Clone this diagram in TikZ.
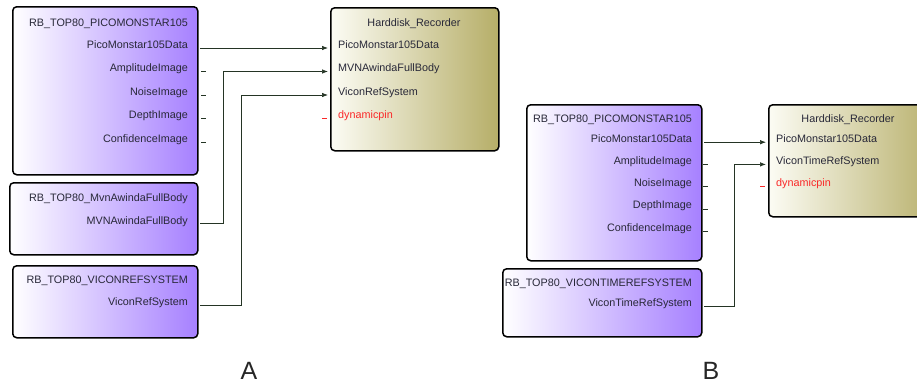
\documentclass[tikz,border=0pt]{standalone}
\usepackage{fontspec}
\setmainfont{Liberation Sans}
\usetikzlibrary{arrows.meta}

\definecolor{srcpurple}{RGB}{166,128,255}
\definecolor{recolive}{RGB}{182,174,104}
\definecolor{reccream}{RGB}{252,252,244}
\definecolor{pintext}{RGB}{40,40,56}
\definecolor{wirecol}{RGB}{36,52,36}
\definecolor{pinred}{RGB}{250,40,40}

\begin{document}
\begin{tikzpicture}[x=1pt,y=-1pt,
    block/.style={draw=black, line width=1.5pt, rounded corners=4pt, anchor=north west, inner sep=0pt},
    source/.style={block, left color=white, right color=srcpurple},
    recorder/.style={block, left color=reccream, right color=recolive},
    pin/.style={font=\fontsize{10.8}{13}\selectfont, text=pintext, inner sep=0pt},
    outpin/.style={pin, anchor=base east},
    inpin/.style={pin, anchor=base west},
    wire/.style={draw=wirecol, line width=0.7pt},
    feed/.style={wire, -{Latex[length=6pt,width=4.5pt]}},
    stub/.style={draw=wirecol, line width=0.6pt}]

    \useasboundingbox (0,0) rectangle (917,388);
    \clip (0,0) rectangle (917,388);

    % ---- A ----
    \node[source, minimum width=185pt, minimum height=168pt] (picoA) at (12,6) {};
    \node[outpin] (picoA-t) at (188,27) {RB\_TOP80\_PICOMONSTAR105};
    \foreach \n [count=\i] in {PicoMonstar105Data,AmplitudeImage,NoiseImage,DepthImage,ConfidenceImage}
        \node[outpin] (picoA-p\i) at (188,{24.5+23.5*\i}) {\n};
    \foreach \i in {2,...,5}
        \draw[stub] (201,{24.5+23.5*\i}) -- ++(5,0);

    \node[source, minimum width=188pt, minimum height=72pt] (mvnA) at (9,182) {};
    \node[outpin] (mvnA-t) at (188,201) {RB\_TOP80\_MvnAwindaFullBody};
    \node[outpin] (mvnA-p1) at (188,224) {MVNAwindaFullBody};

    \node[source, minimum width=185pt, minimum height=72pt] (viconA) at (12,265) {};
    \node[outpin] (viconA-t) at (188,283) {RB\_TOP80\_VICONREFSYSTEM};
    \node[outpin] (viconA-p1) at (188,305) {ViconRefSystem};

    \node[recorder, minimum width=168pt, minimum height=143pt] (recA) at (330,7) {};
    \node[pin, anchor=base] (recA-t) at (414,26) {Harddisk\_Recorder};
    \node[inpin] (recA-p1) at (338,48) {PicoMonstar105Data};
    \node[inpin] (recA-p2) at (338,71.5) {MVNAwindaFullBody};
    \node[inpin] (recA-p3) at (338,95) {ViconRefSystem};
    \node[inpin, text=pinred] (recA-p4) at (338,118) {dynamicpin};
    \draw[pinred, line width=0.6pt] (322,118) -- ++(5,0);

    \coordinate (picoA-o1) at (200,48);
    \coordinate (mvnA-o1) at (200,223);
    \coordinate (viconA-o1) at (200,305);
    \coordinate (recA-i1) at (328,48);
    \coordinate (recA-i2) at (328,71.5);
    \coordinate (recA-i3) at (328,95);

    \draw[feed] (picoA-o1) -- (recA-i1);
    \draw[feed] (mvnA-o1) -- ++(23,0) |- (recA-i2);
    \draw[feed] (viconA-o1) -- ++(41,0) |- (recA-i3);

    % ---- B ----
    \node[source, minimum width=175pt, minimum height=156pt] (picoB) at (526,104) {};
    \node[outpin] (picoB-t) at (692,122) {RB\_TOP80\_PICOMONSTAR105};
    \foreach \n [count=\i] in {PicoMonstar105Data,AmplitudeImage,NoiseImage,DepthImage,ConfidenceImage}
        \node[outpin] (picoB-p\i) at (692,{120+22.2*\i}) {\n};
    \foreach \i in {2,...,5}
        \draw[stub] (703,{120+22.2*\i}) -- ++(5,0);

    \node[source, minimum width=199pt, minimum height=68pt] (viconB) at (502,268) {};
    \node[outpin] (viconB-t) at (692,286) {RB\_TOP80\_VICONTIMEREFSYSTEM};
    \node[outpin] (viconB-p1) at (692,306) {ViconTimeRefSystem};

    \node[recorder, minimum width=172pt, minimum height=112pt] (recB) at (768,104) {};
    \node[pin, anchor=base] (recB-t) at (848,122) {Harddisk\_Recorder};
    \node[inpin] (recB-p1) at (776,142.2) {PicoMonstar105Data};
    \node[inpin] (recB-p2) at (776,164.4) {ViconTimeRefSystem};
    \node[inpin, text=pinred] (recB-p3) at (776,186.6) {dynamicpin};
    \draw[pinred, line width=0.6pt] (760,186.6) -- ++(5,0);

    \coordinate (picoB-o1) at (704,142.2);
    \coordinate (viconB-o1) at (704,306);
    \coordinate (recB-i1) at (766,142.2);
    \coordinate (recB-i2) at (766,164.4);

    \draw[feed] (picoB-o1) -- (recB-i1);
    \draw[feed] (viconB-o1) -- ++(30,0) |- (recB-i2);

    % panel letters
    \node[font=\fontsize{25}{30}\selectfont, text=black!85] (labA) at (249,371) {A};
    \node[font=\fontsize{25}{30}\selectfont, text=black!85] (labB) at (711,371) {B};
\end{tikzpicture}
\end{document}
